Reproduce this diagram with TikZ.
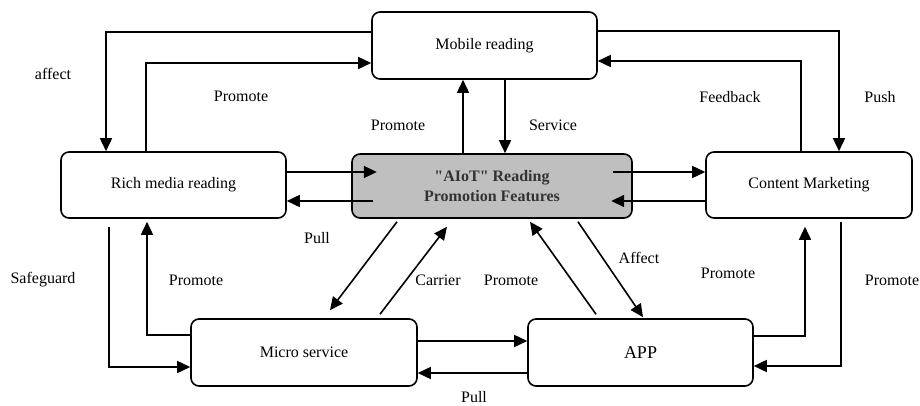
\documentclass[tikz,border=0pt]{standalone}
\usepackage{fontspec}
\setmainfont{Liberation Serif}[Ligatures=TeXOff]
\usetikzlibrary{arrows.meta}

\tikzset{
  box/.style={draw=black, line width=1.6pt, rounded corners=8pt, align=center, inner sep=0pt, font=\fontsize{16}{20}\selectfont},
  link/.style={line width=1.6pt, -{Triangle[length=13pt,width=12pt]}},
  tag/.style={font=\fontsize{16}{20}\selectfont, inner sep=0pt}
}

\begin{document}
\begin{tikzpicture}[x=1pt, y=-1pt]
\useasboundingbox (0,0) rectangle (920,406);

% Boxes
\node[box, minimum width=225pt, minimum height=67pt] (mob) at (484.5, 45.5) {Mobile reading};
\node[box, minimum width=225pt, minimum height=66pt] (rich) at (173.5, 185) {Rich media reading};
\node[box, minimum width=280pt, minimum height=64pt, fill=black!25, text=black!80, font=\fontsize{16}{20}\selectfont\bfseries] (ctr) at (492, 186) {"AIoT" Reading\\Promotion Features};
\node[box, minimum width=206pt, minimum height=66pt] (cm) at (809, 185) {Content Marketing};
\node[box, minimum width=226pt, minimum height=67pt] (micro) at (304, 352.5) {Micro service};
\node[box, minimum width=225pt, minimum height=67pt, font=\fontsize{18}{22}\selectfont] (app) at (640.5, 352.5) {APP};

% Top loops
\draw[link] (mob.west |- 0,32) -| (rich.north -| 106,0);
\draw[link] (rich.north -| 146,0) |- (mob.west |- 0,63);
\draw[link] (ctr.north -| 463,0) -- (mob.south -| 463,0);
\draw[link] (mob.south -| 505,0) -- (ctr.north -| 505,0);
\draw[link] (mob.east |- 0,31) -| (cm.north -| 839,0);
\draw[link] (cm.north -| 801,0) |- (mob.east |- 0,61);

% Middle row
\draw[link] (rich.east |- 0,172) -- ++(90,0);
\draw[link] (ctr.west |- 0,201) ++(22,0) -- (rich.east |- 0,201);
\draw[link] (ctr.east |- 0,172) ++(-20,0) -- (cm.west |- 0,172);
\draw[link] (cm.west |- 0,201) -- ++(-94,0);

% Diagonals
\draw[link] ([xshift=-95pt, yshift=-3pt]ctr.south) -- ([xshift=26pt, yshift=8pt]micro.north);
\draw[link] ([xshift=76pt, yshift=4pt]micro.north) -- ([xshift=-45pt, yshift=-8pt]ctr.south);
\draw[link] ([xshift=-44.5pt, yshift=4pt]app.north) -- ([xshift=38pt, yshift=-3pt]ctr.south);
\draw[link] ([xshift=86pt, yshift=-3pt]ctr.south) -- ([xshift=2.5pt, yshift=1pt]app.north);

% Bottom loops
\draw[link, shorten >=8pt] (app.east |- 0,336) -| (cm.south -| 805,0);
\draw[link, shorten <=3pt] (cm.south -| 841,0) |- (app.east |- 0,366);
\draw[link, shorten <=8pt] (rich.south -| 109,0) |- (micro.west |- 0,367);
\draw[link, shorten >=3pt] (micro.west |- 0,335) -| (rich.south -| 147,0);
\draw[link] (micro.east |- 0,341) -- (app.west |- 0,341);
\draw[link] (app.west |- 0,373) -- (micro.east |- 0,373);

% Labels
\node[tag] (tAffect) at (53, 74) {affect};
\node[tag] (tPromA) at (241, 96) {Promote};
\node[tag] (tPromB) at (398, 125) {Promote};
\node[tag] (tService) at (553, 125) {Service};
\node[tag] (tFeed) at (730, 97) {Feedback};
\node[tag] (tPush) at (880, 97) {Push};
\node[tag] (tPullA) at (317, 238) {Pull};
\node[tag] (tSafe) at (43, 280) {Safeguard};
\node[tag] (tPromC) at (196, 280) {Promote};
\node[tag] (tCarrier) at (438, 280) {Carrier};
\node[tag] (tPromD) at (511, 280) {Promote};
\node[tag] (tAffB) at (639, 258) {Affect};
\node[tag] (tPromE) at (728, 273) {Promote};
\node[tag] (tPromF) at (892, 280) {Promote};
\node[tag] (tPullB) at (474, 397) {Pull};

\end{tikzpicture}
\end{document}
